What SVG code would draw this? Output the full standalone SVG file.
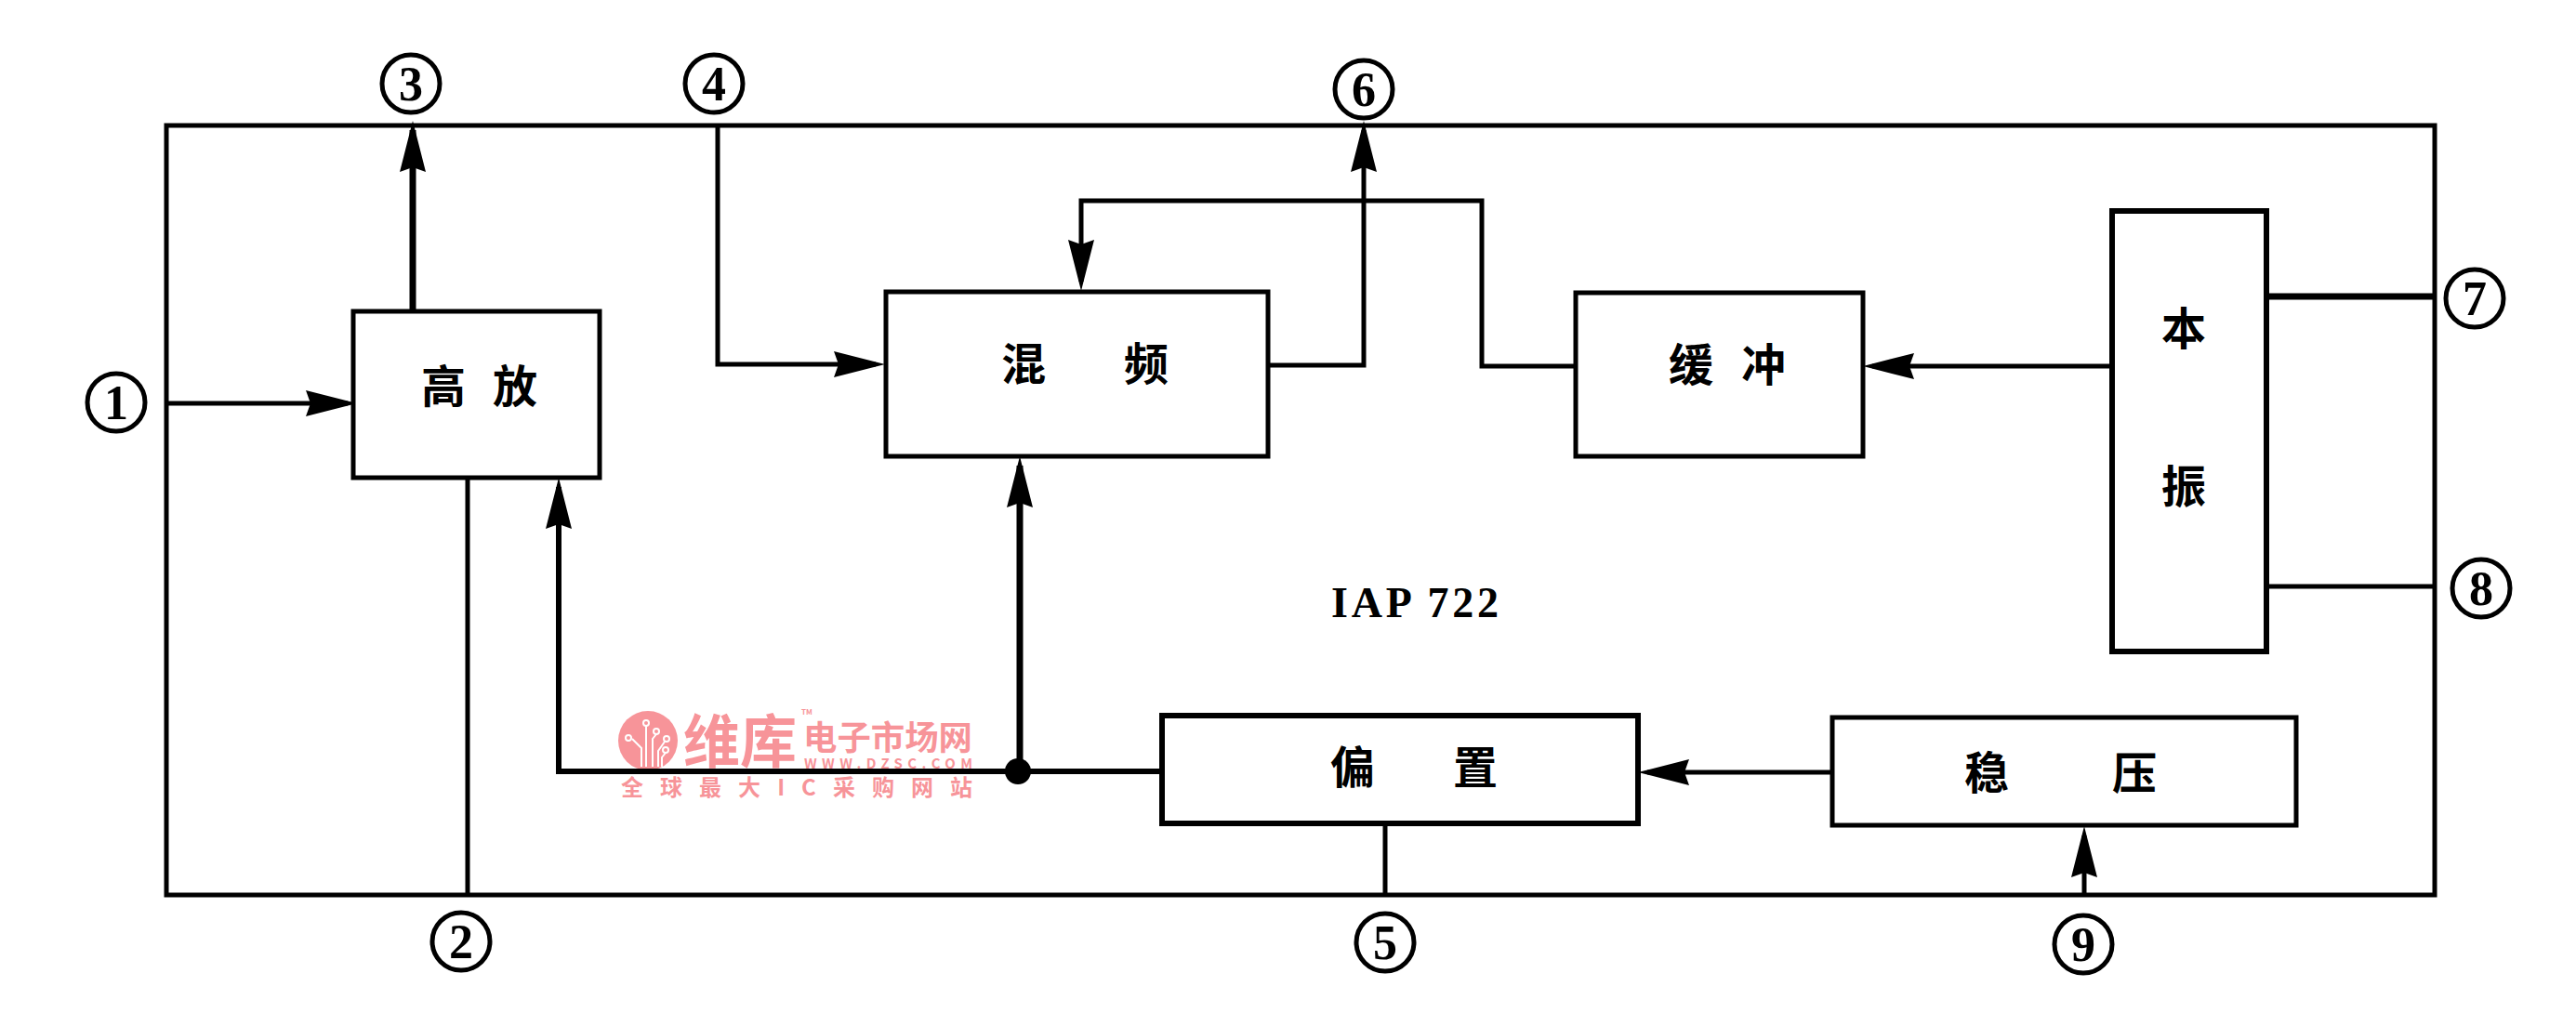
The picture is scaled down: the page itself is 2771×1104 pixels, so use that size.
<svg xmlns="http://www.w3.org/2000/svg" width="2771" height="1104" viewBox="0 0 2771 1104">
<style>
.b{fill:#fff;stroke:#000;stroke-width:5}
.w{fill:none;stroke:#000;stroke-linejoin:miter}
.t{font-family:"Noto Sans CJK SC","Noto Sans CJK TC",sans-serif;font-weight:700;font-size:48px;fill:#000}
.c{fill:#fff;stroke:#000;stroke-width:5}
.n{font-family:"Liberation Serif",serif;font-weight:700;font-size:52px;text-anchor:middle;fill:#000}
.m{font-family:"Noto Sans CJK SC",sans-serif;font-weight:700;fill:#f79499}
</style>
<defs>
<marker id="a" markerUnits="userSpaceOnUse" markerWidth="56" markerHeight="32" refX="45" refY="16" orient="auto"><path d="M0 2L55 16L0 30L5 16Z" fill="#000"/></marker>
</defs>
<rect width="2771" height="1104" fill="#fff"/>
<g id="watermark">
<circle cx="697" cy="797" r="32" fill="#f79499"/>
<g fill="none" stroke="#fff" stroke-width="2">
<path d="M695 825V780M702 825V795L706 790M690 825V805L680 795M708 825V808L715 798M712 825V815L716 810"/>
<circle cx="695" cy="778" r="3"/><circle cx="706" cy="787" r="3"/><circle cx="676" cy="794" r="3"/><circle cx="717" cy="795" r="3"/><circle cx="716" cy="807" r="3"/>
</g>
<text class="m" x="735" y="821" font-size="62" textLength="122" lengthAdjust="spacingAndGlyphs">维库</text>
<text class="m" x="862" y="769" font-size="8">TM</text>
<text class="m" x="864" y="807" font-size="36" textLength="182" lengthAdjust="spacingAndGlyphs">电子市场网</text>
<text class="m" x="865" y="827" font-size="15" textLength="181" font-family="Liberation Sans">WWW.DZSC.COM</text>
<text class="m" x="668" y="856" font-size="24" font-weight="400" textLength="378">全球最大IC采购网站</text>
</g>
<g id="frame"><rect x="179" y="135" width="2440" height="828" fill="none" stroke="#000" stroke-width="5"/></g>
<g id="connectors">
<path class="w" stroke-width="5" d="M180 434H374" marker-end="url(#a)"/>
<path class="w" stroke-width="7" d="M444 335V140" marker-end="url(#a)"/>
<path class="w" stroke-width="5" d="M772 135V392H942" marker-end="url(#a)"/>
<path class="w" stroke-width="5" d="M1364 393H1467V140" marker-end="url(#a)"/>
<path class="w" stroke-width="5" d="M1695 394H1594V216H1163V303" marker-end="url(#a)"/>
<path class="w" stroke-width="5" d="M2271 394H2014" marker-end="url(#a)"/>
<path class="w" stroke-width="7" d="M2439 319H2619"/>
<path class="w" stroke-width="5" d="M2439 631H2619"/>
<path class="w" stroke-width="5" d="M503 514V963"/>
<path class="w" stroke-width="6" d="M1249 830H601V524" marker-end="url(#a)"/>
<path class="w" stroke-width="7" d="M1097 830V501" marker-end="url(#a)"/>
<circle cx="1095" cy="830" r="14" fill="#000"/>
<path class="w" stroke-width="5" d="M1490 885V963"/>
<path class="w" stroke-width="5" d="M2242 963V899" marker-end="url(#a)"/>
<path class="w" stroke-width="5" d="M1970 831H1772" marker-end="url(#a)"/>
</g>
<g id="gaofang"><rect class="b" x="380" y="335" width="265" height="179"/><text class="t" x="453 530" y="433">高放</text></g>
<g id="hunpin"><rect class="b" x="953" y="314" width="411" height="177"/><text class="t" x="1077 1209" y="409">混频</text></g>
<g id="huanchong"><rect class="b" x="1695" y="315" width="309" height="176"/><text class="t" x="1795 1873" y="410">缓冲</text></g>
<g id="benzhen"><rect class="b" x="2272" y="227" width="166" height="474" style="stroke-width:6"/><text class="t" x="2325" y="371">本</text><text class="t" x="2325" y="541">振</text></g>
<g id="pianzhi"><rect class="b" x="1250" y="770" width="512" height="116" style="stroke-width:6"/><text class="t" x="1431 1563" y="843">偏置</text></g>
<g id="wenya"><rect class="b" x="1971" y="772" width="499" height="116"/><text class="t" x="2113 2272" y="849">稳压</text></g>
<text id="title" x="1432" y="664" font-family="Liberation Serif,serif" font-weight="700" font-size="46" fill="#000" textLength="180">IAP 722</text>
<g id="p1"><circle class="c" cx="125" cy="433" r="31"/><text class="n" x="125" y="451">1</text></g>
<g id="p2"><circle class="c" cx="496" cy="1013" r="31"/><text class="n" x="496" y="1031">2</text></g>
<g id="p3"><circle class="c" cx="442" cy="90" r="31"/><text class="n" x="442" y="108">3</text></g>
<g id="p4"><circle class="c" cx="768" cy="90" r="31"/><text class="n" x="768" y="108">4</text></g>
<g id="p5"><circle class="c" cx="1490" cy="1014" r="31"/><text class="n" x="1490" y="1032">5</text></g>
<g id="p6"><circle class="c" cx="1467" cy="96" r="31"/><text class="n" x="1467" y="114">6</text></g>
<g id="p7"><circle class="c" cx="2662" cy="321" r="31"/><text class="n" x="2662" y="339">7</text></g>
<g id="p8"><circle class="c" cx="2669" cy="633" r="31"/><text class="n" x="2669" y="651">8</text></g>
<g id="p9"><circle class="c" cx="2241" cy="1016" r="31"/><text class="n" x="2241" y="1034">9</text></g>
</svg>
